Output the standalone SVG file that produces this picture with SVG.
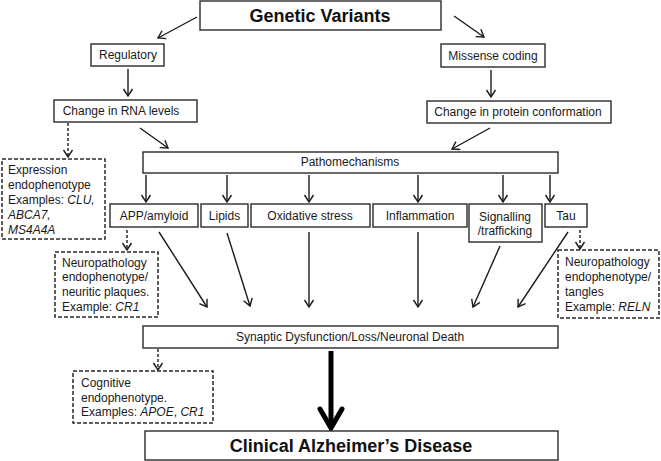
<svg xmlns="http://www.w3.org/2000/svg" width="661" height="461" viewBox="0 0 661 461">
<defs>
<style>
.box{fill:#fff;stroke:#2a2a2a;stroke-width:1.4}
.dbox{fill:#fff;stroke:#2a2a2a;stroke-width:1.5;stroke-dasharray:4 2}
.t{font-family:"Liberation Sans",Arial,sans-serif;font-size:12px;fill:#1a1a1a}
.c{text-anchor:middle}
.big{font-family:"Liberation Sans",Arial,sans-serif;font-size:18px;font-weight:bold;fill:#111;text-anchor:middle}
.i{font-style:italic}
.ln{fill:none;stroke:#1a1a1a;stroke-width:1.4;marker-end:url(#ah)}
.dl{fill:none;stroke:#1a1a1a;stroke-width:1.4;stroke-dasharray:3 2;marker-end:url(#ah)}
</style>
<marker id="ah" markerUnits="userSpaceOnUse" markerWidth="12" markerHeight="12" viewBox="-8 -6 10 12" refX="0" refY="0" orient="auto">
<path d="M-7,-4.5 L0,0 L-7,4.5" fill="none" stroke="#1a1a1a" stroke-width="1.4"/>
</marker>
</defs>
<rect width="661" height="461" fill="#fff"/>

<g id="connectors">
<path class="ln" d="M197,17 L158,38"/>
<path class="ln" d="M454,16 L484,37"/>
<path class="ln" d="M128,69 L128,96"/>
<path class="ln" d="M491,70 L491,97"/>
<path class="ln" d="M140,128 L168,148"/>
<path class="ln" d="M490,128 L452,149"/>
<path class="ln" d="M146,175 L146,202"/>
<path class="ln" d="M227,175 L227,202"/>
<path class="ln" d="M309,175 L309,202"/>
<path class="ln" d="M418,175 L418,202"/>
<path class="ln" d="M503,175 L503,202"/>
<path class="ln" d="M550,175 L550,202"/>
<path class="ln" d="M159,232 L207,307"/>
<path class="ln" d="M227,233 L250,306"/>
<path class="ln" d="M309,232 L309,307"/>
<path class="ln" d="M418,232 L418,307"/>
<path class="ln" d="M500,246 L473,307"/>
<path class="ln" d="M568,232 L518,307"/>
<path class="dl" d="M68,123 L68,157"/>
<path class="dl" d="M127,230 L127,250"/>
<path class="dl" d="M580,230 L580,249"/>
<path class="dl" d="M158,349 L158,370"/>
<path d="M331,351 L331,425" stroke="#000" stroke-width="5" fill="none"/>
<path d="M320,409 L331,428 L342,409" stroke="#000" stroke-width="5" fill="none" stroke-linecap="round" stroke-linejoin="miter"/>
</g>

<g id="genetic"><rect class="box" x="200" y="1" width="241" height="29"/><text class="big" x="320" y="22">Genetic Variants</text></g>
<g id="regulatory"><rect class="box" x="91" y="44" width="73" height="22"/><text class="t c" x="128" y="59">Regulatory</text></g>
<g id="missense"><rect class="box" x="441" y="44" width="104" height="23"/><text class="t c" x="493" y="60">Missense coding</text></g>
<g id="rna"><rect class="box" x="54" y="100" width="143" height="22"/><text class="t c" x="121" y="115">Change in RNA levels</text></g>
<g id="protein"><rect class="box" x="427" y="101" width="184" height="22"/><text class="t c" x="518" y="116">Change in protein conformation</text></g>
<g id="patho"><rect class="box" x="143" y="152" width="415" height="21"/><text class="t c" x="350" y="166">Pathomechanisms</text></g>

<g id="app"><rect class="box" x="110" y="204" width="88" height="23"/><text class="t c" x="154" y="220">APP/amyloid</text></g>
<g id="lipids"><rect class="box" x="201" y="204" width="47" height="23"/><text class="t c" x="224.5" y="220">Lipids</text></g>
<g id="oxidative"><rect class="box" x="251" y="204" width="119" height="23"/><text class="t c" x="310" y="220">Oxidative stress</text></g>
<g id="inflammation"><rect class="box" x="373" y="204" width="94" height="23"/><text class="t c" x="420" y="220">Inflammation</text></g>
<g id="signalling"><rect class="box" x="469" y="204" width="73" height="38"/><text class="t c" x="505" y="221">Signalling</text><text class="t c" x="505" y="235">/trafficking</text></g>
<g id="tau"><rect class="box" x="545" y="204" width="42" height="23"/><text class="t c" x="566" y="220">Tau</text></g>

<g id="expression"><rect class="dbox" x="2" y="159" width="103" height="80"/>
<text class="t" x="8" y="174">Expression</text>
<text class="t" x="8" y="189">endophenotype</text>
<text class="t" x="8" y="204">Examples: <tspan class="i">CLU,</tspan></text>
<text class="t i" x="8" y="219">ABCA7,</text>
<text class="t i" x="8" y="234">MS4A4A</text></g>

<g id="neuro-left"><rect class="dbox" x="55" y="252" width="103" height="65"/>
<text class="t" x="62" y="267">Neuropathology</text>
<text class="t" x="62" y="281">endophenotype/</text>
<text class="t" x="62" y="296">neuritic plaques.</text>
<text class="t" x="62" y="311">Example: <tspan class="i">CR1</tspan></text></g>

<g id="neuro-right"><rect class="dbox" x="558" y="250" width="101" height="68"/>
<text class="t" x="565" y="266">Neuropathology</text>
<text class="t" x="565" y="281">endophenotype/</text>
<text class="t" x="565" y="296">tangles</text>
<text class="t" x="565" y="311">Example: <tspan class="i">RELN</tspan></text></g>

<g id="synaptic"><rect class="box" x="143" y="326" width="415" height="22"/><text class="t c" x="350" y="341">Synaptic Dysfunction/Loss/Neuronal Death</text></g>

<g id="cognitive"><rect class="dbox" x="73" y="371" width="140" height="52"/>
<text class="t" x="81" y="387">Cognitive</text>
<text class="t" x="81" y="402">endophenotype.</text>
<text class="t" x="81" y="416">Examples: <tspan class="i">APOE</tspan>, <tspan class="i">CR1</tspan></text></g>

<g id="clinical"><rect class="box" x="145" y="431" width="413" height="29"/><text class="big" x="351" y="452">Clinical Alzheimer’s Disease</text></g>
</svg>
